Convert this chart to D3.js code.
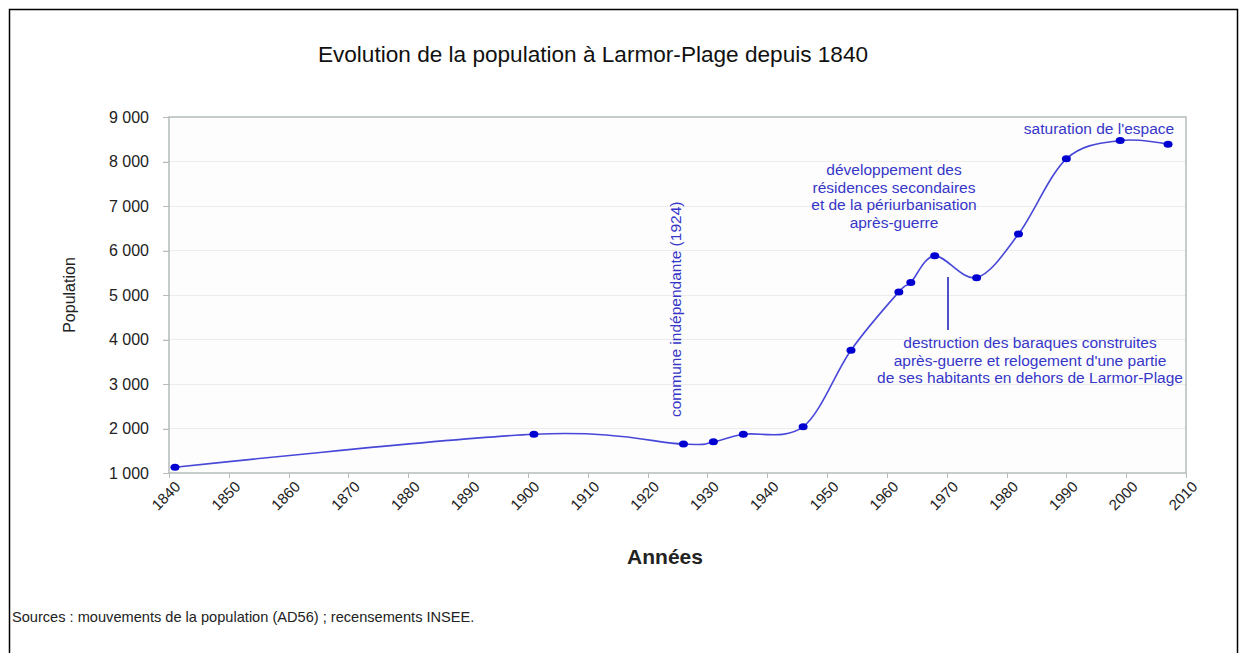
<!DOCTYPE html>
<meta charset="utf-8">
<style>
body { margin: 0; background: #fff; }
svg { display: block; font-family: "Liberation Sans", Arial, sans-serif; }
.axis path, .axis line { stroke: #b4bcbc; shape-rendering: crispEdges; }
.axis text { fill: #222; }
.grid line { stroke: #ececec; shape-rendering: crispEdges; }
.note { fill: #3636c8; font-size: 15.5px; }
</style>
<svg width="1242" height="653"></svg>
<script src="https://d3js.org/d3.v7.min.js"></script>
<script>
// census years and population
var years = [1841, 1901, 1926, 1931, 1936, 1946, 1954, 1962, 1964, 1968, 1975, 1982, 1990, 1999, 2007];
var population = [1130, 1870, 1650, 1700, 1870, 2040, 3760, 5070, 5280, 5880, 5390, 6370, 8060, 8470, 8390];
var yearTicks = d3.range(1840, 2011, 10);
var popTicks = d3.range(1000, 9001, 1000);

var data = years.map(function(d, i) { return {year: d, pop: population[i]}; });

var svg = d3.select("svg");
var plot = {left: 169, right: 1186, top: 117, bottom: 473};

var x = d3.scaleLinear().domain([1840, 2010]).range([plot.left, plot.right]);
var y = d3.scaleLinear().domain([1000, 9000]).range([plot.bottom, plot.top]);
var fmt = function(d) { return d3.format(",")(d).replace(",", " "); };

// outer frame
svg.append("path")
    .attr("d", "M9.5,700V9.5H1237.5V700")
    .attr("fill", "none").attr("stroke", "#000").attr("stroke-width", 1.5);

svg.append("text")
    .attr("x", 593).attr("y", 62)
    .attr("text-anchor", "middle")
    .style("font-size", "22.6px").style("fill", "#111")
    .text("Evolution de la population à Larmor-Plage depuis 1840");

svg.append("rect")
    .attr("x", plot.left).attr("y", plot.top)
    .attr("width", plot.right - plot.left).attr("height", plot.bottom - plot.top)
    .attr("fill", "#fdfdfd");

svg.append("g")
    .attr("class", "grid")
    .selectAll("line")
    .data(popTicks.slice(1, -1))
  .enter().append("line")
    .attr("x1", plot.left - 6).attr("x2", plot.right)
    .attr("y1", function(d) { return y(d); })
    .attr("y2", function(d) { return y(d); });

var yAxis = svg.append("g")
    .attr("class", "axis")
    .attr("transform", "translate(" + plot.left + ",0)")
    .call(d3.axisLeft(y).tickValues(popTicks).tickFormat(fmt).tickSize(6).tickPadding(14));
yAxis.select(".domain").remove();
yAxis.selectAll("text").style("font-size", "16px");

var xAxis = svg.append("g")
    .attr("class", "axis")
    .attr("transform", "translate(0," + plot.bottom + ")")
    .call(d3.axisBottom(x).tickValues(yearTicks).tickFormat(d3.format("d")).tickSize(5));
xAxis.select(".domain").remove();
xAxis.selectAll("text")
    .style("font-size", "15px")
    .attr("text-anchor", "end")
    .attr("dx", "0.3em").attr("dy", "0.3em")
    .attr("transform", "translate(0,9) rotate(-45)");

svg.append("rect")
    .attr("x", plot.left).attr("y", plot.top)
    .attr("width", plot.right - plot.left).attr("height", plot.bottom - plot.top)
    .attr("fill", "none").attr("stroke", "#b4bcbc")
    .attr("stroke-width", 1.5);

svg.append("text")
    .attr("transform", "translate(75,295) rotate(-90)")
    .attr("text-anchor", "middle")
    .style("font-size", "16px").style("fill", "#222")
    .text("Population");

svg.append("text")
    .attr("x", 665).attr("y", 564)
    .attr("text-anchor", "middle")
    .style("font-size", "21px").style("font-weight", "bold").style("fill", "#222")
    .text("Années");

svg.append("text")
    .attr("x", 12).attr("y", 622)
    .style("font-size", "14.6px").style("fill", "#222")
    .text("Sources : mouvements de la population (AD56) ; recensements INSEE.");

var line = d3.line()
    .curve(d3.curveCardinal.tension(0))
    .x(function(d) { return x(d.year); })
    .y(function(d) { return y(d.pop); });

svg.append("path")
    .datum(data)
    .attr("fill", "none")
    .attr("stroke", "#4848d8")
    .attr("stroke-width", 1.6)
    .attr("d", line);

svg.selectAll(".dot")
    .data(data)
  .enter().append("ellipse")
    .attr("class", "dot")
    .attr("cx", function(d) { return x(d.year); })
    .attr("cy", function(d) { return y(d.pop); })
    .attr("rx", 4.5).attr("ry", 3.5)
    .attr("fill", "#0000d0");

// annotations
svg.append("text")
    .attr("class", "note")
    .attr("transform", "translate(681,417) rotate(-90)")
    .text("commune indépendante (1924)");

function block(lines, cx, y0, step) {
    svg.append("text")
        .attr("class", "note")
        .attr("text-anchor", "middle")
        .selectAll("tspan")
        .data(lines)
      .enter().append("tspan")
        .attr("x", cx)
        .attr("y", function(d, i) { return y0 + i * step; })
        .text(function(d) { return d; });
}

block(["développement des", "résidences secondaires", "et de la périurbanisation", "après-guerre"], 894, 175, 17.5);
block(["destruction des baraques construites", "après-guerre et relogement d'une partie", "de ses habitants en dehors de Larmor-Plage"], 1030, 348, 17.5);
block(["saturation de l'espace"], 1099, 134, 0);

svg.append("line")
    .attr("x1", 948).attr("x2", 948)
    .attr("y1", 277).attr("y2", 330)
    .attr("stroke", "#5050c8").attr("stroke-width", 2);
</script>
